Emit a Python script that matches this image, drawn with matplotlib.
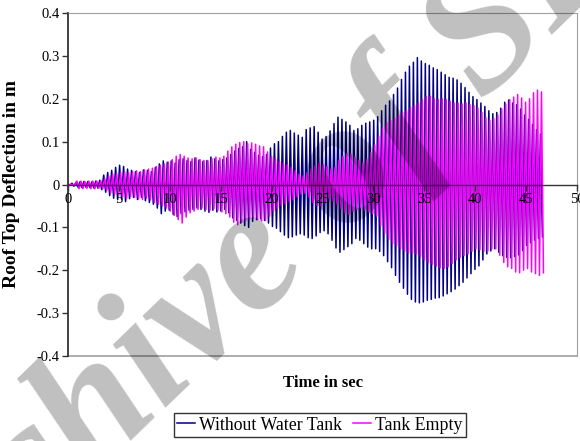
import numpy as np
import matplotlib
matplotlib.use("Agg")
import matplotlib.pyplot as plt

# Roof-top deflection time histories (one max and one min per cycle), in mm
period = 0.39          # s, dominant vibration period
blue_offset = 0.0
pink_offset = 0.10

no_tank_max = [0, 3, 5, 6, 7, 7, 6, 8, 10, 22, 28, 33, 40, 45, 42, 36, 33, 30, 28, 34,
               33, 30, 40, 48, 55, 52, 55, 50, 58, 60, 56, 54, 62, 57, 54, 56, 64, 60, 55, 58,
               62, 70, 78, 84, 88, 100, 82, 75, 68, 65, 70, 85, 95, 100, 112, 122, 126, 120, 115, 110,
               128, 132, 135, 122, 106, 112, 125, 142, 157, 152, 146, 138, 126, 130, 138, 143, 146, 150, 158, 172,
               185, 195, 210, 225, 245, 262, 276, 285, 296, 288, 282, 278, 272, 268, 262, 256, 250, 248, 244, 236,
               226, 215, 205, 198, 190, 182, 172, 165, 168, 178, 192, 197, 190, 186, 176, 162, 152, 140, 128, 118]
no_tank_min = [-2, -4, -6, -7, -6, -7, -8, -8, -12, -18, -26, -32, -35, -34, -40, -33, -30, -35, -30, -38,
               -42, -46, -55, -68, -62, -60, -70, -75, -68, -64, -60, -58, -55, -58, -62, -65, -60, -64, -62, -58,
               -66, -78, -84, -90, -96, -100, -86, -82, -80, -84, -90, -98, -102, -110, -118, -124, -122, -118, -115, -118,
               -124, -126, -120, -112, -108, -115, -130, -148, -158, -152, -145, -138, -126, -130, -138, -146, -150, -150, -156, -166,
               -180, -194, -212, -228, -242, -256, -268, -274, -276, -274, -270, -268, -265, -264, -260, -255, -250, -244, -236, -228,
               -218, -208, -198, -190, -176, -162, -155, -150, -158, -166, -170, -171, -168, -164, -154, -142, -136, -130, -126, -122]

empty_max = [0, 0, 8, 8, 7, 8, 8, 8, 9, 14, 20, 24, 26, 28, 30, 28, 30, 32, 30, 34,
             36, 38, 42, 45, 48, 52, 58, 66, 70, 66, 62, 60, 62, 58, 56, 55, 60, 64, 62, 66,
             78, 88, 94, 98, 100, 95, 97, 94, 90, 88, 76, 66, 60, 54, 50, 46, 40, 32, 24, 20,
             28, 36, 44, 50, 46, 42, 36, 40, 56, 66, 72, 70, 64, 56, 50, 58, 74, 92, 112, 132,
             145, 150, 155, 162, 168, 172, 180, 184, 190, 198, 205, 206, 200, 198, 200, 198, 194, 190, 190, 188,
             190, 186, 184, 178, 168, 156, 150, 154, 162, 176, 188, 198, 204, 210, 202, 192, 200, 214, 220, 216]
empty_min = [0, 0, -10, -10, -9, -10, -10, -9, -10, -14, -20, -23, -26, -30, -32, -28, -30, -34, -35, -32,
             -36, -42, -46, -50, -55, -62, -72, -82, -90, -76, -66, -62, -58, -55, -58, -60, -56, -60, -64, -68,
             -76, -88, -94, -88, -84, -80, -78, -82, -85, -84, -74, -62, -56, -48, -45, -40, -36, -28, -22, -20,
             -30, -42, -48, -50, -44, -36, -38, -46, -56, -66, -70, -62, -58, -55, -60, -64, -68, -74, -96, -114,
             -128, -138, -142, -150, -156, -160, -160, -162, -168, -176, -182, -186, -190, -194, -196, -192, -184, -176, -170, -166,
             -162, -156, -150, -152, -156, -155, -150, -150, -165, -182, -192, -196, -204, -206, -200, -196, -204, -208, -212, -206]

x_ticks = [0, 5, 10, 15, 20, 25, 30, 35, 40, 45, 50]
y_ticks = [-0.4, -0.3, -0.2, -0.1, 0, 0.1, 0.2, 0.3, 0.4]
y_tick_labels = ["-0.4", "-0.3", "-0.2", "-0.1", "0", "0.1", "0.2", "0.3", "0.4"]


def history(maxima, minima, offset):
    """Zig-zag trace through alternating peaks, returned in metres."""
    k = np.arange(len(maxima))
    t = np.column_stack([offset + k * period, offset + (k + 0.5) * period]).ravel()
    y = np.column_stack([maxima, minima]).ravel() / 1000.0
    return t, y


serif = ["Liberation Serif", "DejaVu Serif"]
plt.rcParams["font.family"] = serif

fig = plt.figure(figsize=(5.8, 4.41), dpi=100)
ax = fig.add_axes([68 / 580, 1 - 356 / 441, 509 / 580, 343 / 441])

t1, y1 = history(no_tank_max, no_tank_min, blue_offset)
t2, y2 = history(empty_max, empty_min, pink_offset)
ax.plot(t1, y1, color="#000080", lw=1.1, label="Without Water Tank", zorder=2)
ax.plot(t2, y2, color="#FF00FF", lw=1.1, label="Tank Empty", zorder=3)

ax.set_xlim(0, 50)
ax.set_ylim(-0.4, 0.4)
ax.set_xticks(x_ticks)
ax.set_xticklabels([str(v) for v in x_ticks])
ax.set_yticks(y_ticks)
ax.set_yticklabels(y_tick_labels)

# frame: dark value axis, category axis on the zero line, grey plot-area border
ax.spines["left"].set_color("#333333")
ax.spines["left"].set_linewidth(1.3)
ax.spines["bottom"].set_position(("data", 0))
ax.spines["bottom"].set_color("#333333")
ax.spines["bottom"].set_linewidth(1.0)
ax.spines["top"].set_color("#A0A0A0")
ax.spines["right"].set_color("#A0A0A0")
for s in ax.spines.values():
    s.set_zorder(5)
ax.xaxis.set_zorder(6)
ax.yaxis.set_zorder(6)
ax.axhline(-0.4, color="#A0A0A0", lw=1.2, clip_on=False, zorder=5)

ax.tick_params(axis="both", direction="out", length=4, width=1, color="#333333",
               labelsize=10.5, pad=2)

ax.set_ylabel("Roof Top Deflection in m", fontsize=14, fontweight="bold")
ax.yaxis.set_label_coords(-0.094, 0.5)
ax.set_xlabel("Time in sec", fontsize=12, fontweight="bold")
ax.xaxis.set_label_coords(0.501, -0.055)

leg = fig.legend(loc="center", bbox_to_anchor=(320 / 580, 1 - 425 / 441), ncol=2,
                 fontsize=12.8, frameon=True, fancybox=False, edgecolor="black",
                 handlelength=1.0, handletextpad=0.25, columnspacing=0.6,
                 borderpad=0.2, borderaxespad=0)
leg.get_frame().set_linewidth(1.0)

fig.text(0.466, 0.422, "Archive of SID", fontsize=128, fontweight="bold", style="italic",
         family=serif, color="black", alpha=0.25, rotation=44,
         ha="center", va="center", rotation_mode="anchor", zorder=10)

fig.savefig("out.png", dpi=100)
